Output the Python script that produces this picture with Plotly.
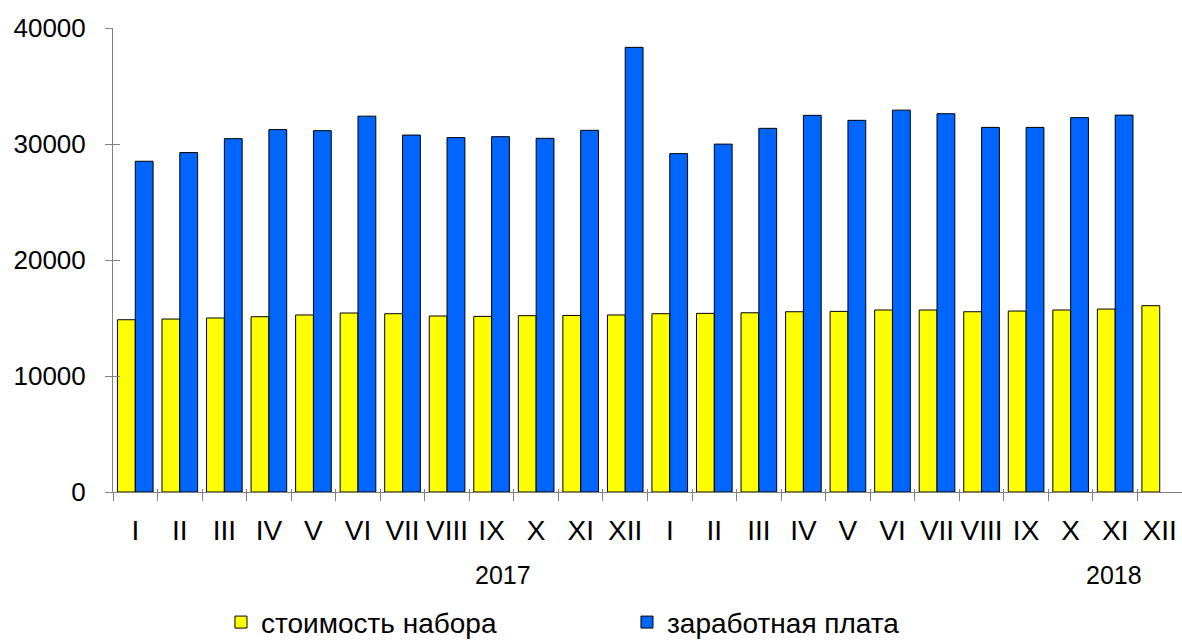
import plotly.graph_objects as go

months = ["I", "II", "III", "IV", "V", "VI", "VII", "VIII", "IX", "X", "XI", "XII"]
years = ["2017", "2018"]

cost_2017 = [14850, 14910, 15000, 15110, 15260, 15430, 15370, 15170, 15140, 15200, 15220, 15260]
cost_2018 = [15370, 15400, 15450, 15540, 15570, 15690, 15690, 15540, 15600, 15690, 15770, 16060]
wage_2017 = [28510, 29260, 30460, 31240, 31150, 32400, 30770, 30550, 30630, 30490, 31180, 38330]
wage_2018 = [29170, 29990, 31350, 32470, 32040, 32920, 32610, 31430, 31430, 32270, 32490, None]

series_names = ["стоимость набора", "заработная плата"]
y_ticks = [0, 10000, 20000, 30000, 40000]

cats = [f"{m} {y}" for y in years for m in months]
labels = months + months
cost = cost_2017 + cost_2018
wage = wage_2017 + wage_2018
n = len(cats)

FONT = "Liberation Sans, Arial, sans-serif"
AX = "#808080"

fig = go.Figure()
fig.add_trace(go.Bar(x=cats, y=cost, name=series_names[0],
                     marker=dict(color="#FFFF00", line=dict(color="#000000", width=1))))
fig.add_trace(go.Bar(x=cats, y=wage, name=series_names[1],
                     marker=dict(color="#0066FF", line=dict(color="#000000", width=1))))
# empty helper trace so the overlay axes (inner half of crossing ticks) are drawn
fig.add_trace(go.Scatter(x=[], y=[], xaxis="x2", yaxis="y2", showlegend=False,
                         hoverinfo="skip"))

# year labels under the month labels
fig.add_annotation(x=8.25, y=0, xref="x", yref="paper", yshift=-99, text=years[0],
                   showarrow=False, font=dict(family=FONT, size=25, color="#000"))
fig.add_annotation(x=21.98, y=0, xref="x", yref="paper", yshift=-99, text=years[1],
                   showarrow=False, font=dict(family=FONT, size=25, color="#000"))

fig.update_layout(
    width=1182, height=640,
    margin=dict(l=113, r=0, t=28, b=148, autoexpand=False),
    paper_bgcolor="white", plot_bgcolor="white",
    barmode="group", bargap=0.2, bargroupgap=0,
    font=dict(family=FONT, size=24, color="#000"),
    showlegend=True,
    legend=dict(orientation="h", x=0.101, xanchor="left", y=-0.281, yanchor="middle",
                entrywidth=361, entrywidthmode="pixels", itemwidth=30,
                font=dict(family=FONT, size=28, color="#000")),
    xaxis=dict(type="category", categoryorder="array", categoryarray=cats,
               tickmode="array", tickvals=cats, ticktext=labels, tickangle=0,
               tickson="boundaries", ticks="outside", ticklen=8, tickcolor=AX,
               showline=True, linecolor=AX, linewidth=1, showgrid=False,
               tickfont=dict(family=FONT, size=28, color="#000"),
               ticklabelstandoff=13, range=[-0.5, n - 0.5], automargin=False),
    yaxis=dict(range=[0, 40000], tickmode="array", tickvals=y_ticks,
               ticktext=[str(v) for v in y_ticks], ticks="outside", ticklen=7,
               tickcolor=AX, showline=True, linecolor=AX, linewidth=1,
               showgrid=False, zeroline=False,
               tickfont=dict(family=FONT, size=26, color="#000"),
               ticklabelstandoff=14, automargin=False),
    xaxis2=dict(overlaying="x", anchor="y2", side="bottom", range=[-0.5, n - 0.5],
                tickmode="array", tickvals=[i - 0.5 for i in range(n + 1)],
                ticks="inside", ticklen=3, tickcolor=AX, showticklabels=False,
                showline=False, showgrid=False, zeroline=False),
    yaxis2=dict(overlaying="y", anchor="x2", side="left", range=[0, 40000],
                tickmode="array", tickvals=y_ticks, ticks="inside", ticklen=7,
                tickcolor=AX, showticklabels=False, showline=False,
                showgrid=False, zeroline=False),
)

fig.write_html("out.html", config={"displayModeBar": False},
               post_script="document.body.style.margin='0';")
